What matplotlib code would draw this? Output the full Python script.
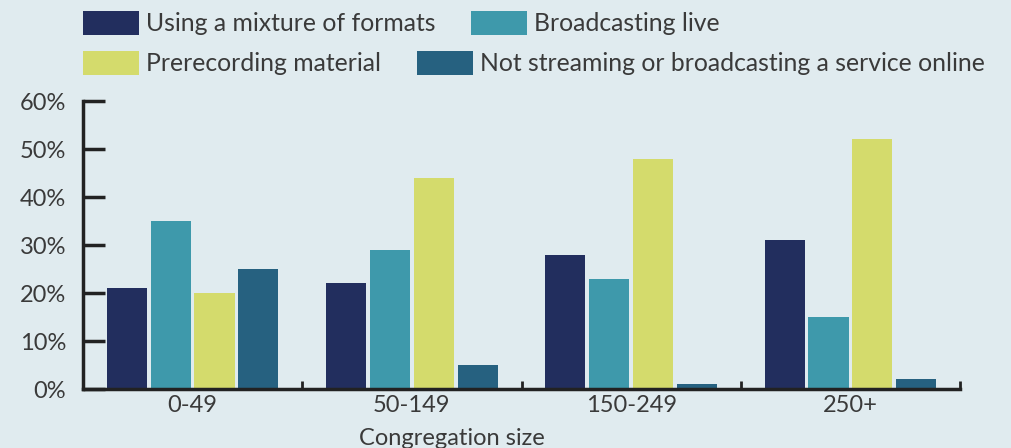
import numpy as np
import matplotlib.pyplot as plt
from matplotlib.patches import Patch

# data
groups = ["0-49", "50-149", "150-249", "250+"]
series = ["Using a mixture of formats", "Broadcasting live",
          "Prerecording material", "Not streaming or broadcasting a service online"]
mixture = [21, 22, 28, 31]
live = [35, 29, 23, 15]
prerecorded = [20, 44, 48, 52]
not_streaming = [25, 5, 1, 2]
yticks = [0, 10, 20, 30, 40, 50, 60]

colors = ["#222e5e", "#3e99ab", "#d4db6c", "#266180"]
bg = "#e0ebef"
ink = "#3a3a3a"
fs = 17

plt.rcParams['font.family'] = ['Lato', 'DejaVu Sans']
plt.rcParams['font.size'] = fs

fig = plt.figure(figsize=(10.11, 4.48), dpi=100, facecolor=bg)
ax = fig.add_axes([83 / 1011, 1 - 389 / 448, 877 / 1011, 288 / 448])
ax.set_facecolor(bg)

x = np.arange(len(groups))
step = 0.2
all_vals = [mixture, live, prerecorded, not_streaming]
for k, vals in enumerate(all_vals):
    ax.bar(x + (k - 1.5) * step, vals, 0.183, color=colors[k], linewidth=0, zorder=2)

ax.set_xlim(-0.5, len(groups) - 0.5)
ax.set_ylim(0, 60)
ax.set_yticks(yticks)
ax.set_yticklabels([f"{v}%" for v in yticks], color=ink, fontsize=fs)
ax.set_xticks(x)
ax.set_xticklabels(groups, color=ink, fontsize=fs)
ax.set_xticks(np.arange(len(groups)) + 0.5, minor=True)

for s in ["top", "right"]:
    ax.spines[s].set_visible(False)
for s in ["left", "bottom"]:
    ax.spines[s].set_color("#222222")
    ax.spines[s].set_linewidth(2.5)
    ax.spines[s].set_zorder(3)

ax.tick_params(axis="y", direction="in", length=16, width=2.5, color="#222222", pad=12)
ax.tick_params(axis="x", which="major", length=0, pad=4)
ax.tick_params(axis="x", which="minor", direction="in", length=6, width=2, color="#222222")

ax.set_xlabel("Congregation size", color=ink, fontsize=fs)
ax.xaxis.set_label_coords((452 - 83) / 877, -0.135)

# legend laid out in two rows, like the reference
lfs = 17.8
handles = [Patch(facecolor=c) for c in colors]
row_tops = [1 - 11 / 448, 1 - 51 / 448]
for r in range(2):
    leg = fig.legend(handles[2 * r:2 * r + 2], series[2 * r:2 * r + 2], ncol=2,
                     loc="upper left", bbox_to_anchor=(83 / 1011, row_tops[r]),
                     frameon=False, borderpad=0, borderaxespad=0,
                     handlelength=2.25, handleheight=1.1, handletextpad=0.3,
                     columnspacing=1.45, fontsize=lfs, labelcolor=ink)

fig.savefig("out.png", dpi=100, facecolor=bg)
